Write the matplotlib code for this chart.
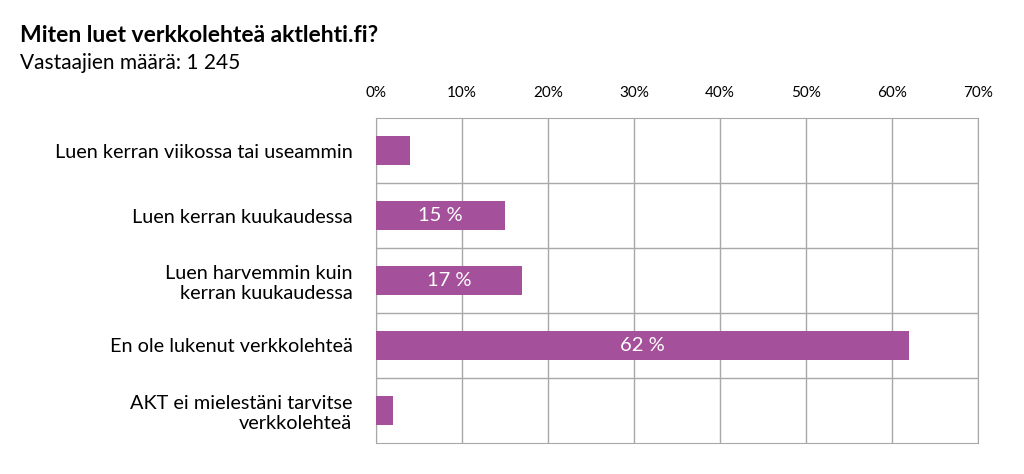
import matplotlib.pyplot as plt
import numpy as np

plt.rcParams['font.family'] = ['Lato', 'DejaVu Sans']

# Vastaukset
kategoriat = ["Luen kerran viikossa tai useammin",
              "Luen kerran kuukaudessa",
              "Luen harvemmin kuin\nkerran kuukaudessa",
              "En ole lukenut verkkolehteä",
              "AKT ei mielestäni tarvitse\nverkkolehteä"]
osuudet = [4, 15, 17, 62, 2]
nayta = [False, True, True, True, False]  # arvot näkyvissä vain isoissa palkeissa
tikit = [0, 10, 20, 30, 40, 50, 60, 70]

vari = '#a5509a'
harmaa = '#a8a8a8'

fig = plt.figure(figsize=(10.24, 4.74), dpi=100)
ax = fig.add_axes([376/1024, 1-443/474, (978-376)/1024, (443-118)/474])

y = np.arange(len(kategoriat))
ax.barh(y, osuudet, height=0.46, color=vari, zorder=3)
for i in range(len(osuudet)):
    if nayta[i]:
        ax.text(osuudet[i]/2, y[i], f"{osuudet[i]} %", color='white',
                ha='center', va='center', fontsize=14.5, zorder=4)

ax.set_xlim(0, 70)
ax.set_ylim(len(kategoriat)-0.5, -0.5)
ax.set_xticks(tikit)
ax.set_xticklabels([f"{t}%" for t in tikit], fontsize=11)
ax.xaxis.tick_top()
ax.tick_params(axis='x', length=0, pad=13)
ax.set_yticks(y)
ax.set_yticklabels(kategoriat, fontsize=14.3, linespacing=1.2)
ax.tick_params(axis='y', length=0, pad=17)
ax.grid(axis='x', color=harmaa, linewidth=1, zorder=0)
for k in range(len(kategoriat)-1):
    ax.axhline(k+0.5, color=harmaa, linewidth=1, zorder=0)
for s in ax.spines.values():
    s.set_color(harmaa)

fig.text(20/1024, 1-36/474, "Miten luet verkkolehteä aktlehti.fi?", fontsize=16.5,
         fontweight='bold', va='center')
fig.text(20/1024, 1-63/474, "Vastaajien määrä: 1 245", fontsize=15, va='center')

fig.savefig('out.png', dpi=100)
